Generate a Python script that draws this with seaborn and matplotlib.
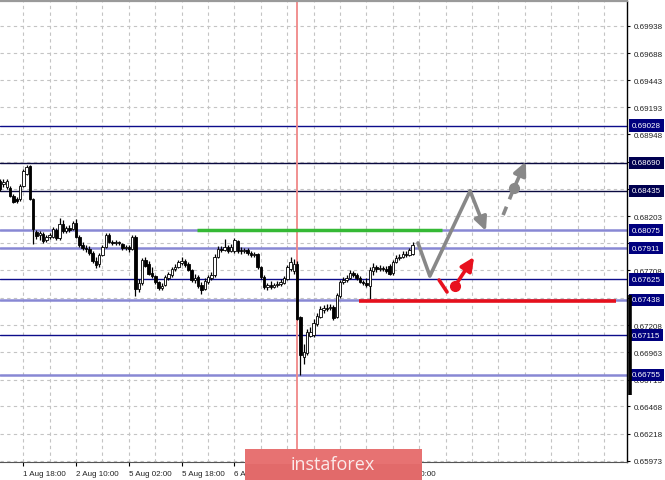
import matplotlib
matplotlib.use("Agg")
import matplotlib.pyplot as plt
import matplotlib.transforms as mtransforms
from matplotlib.patches import Rectangle
from matplotlib.ticker import MultipleLocator, FixedLocator, FixedFormatter
import numpy as np
import pandas as pd
import seaborn as sns

# ------------------------------------------------------------------
# data: hourly bars, hour 0 = 1 Aug 18:00 (trading hours only)
# ------------------------------------------------------------------
bar_hours = list(range(-7, 119))

opens = [0.68523, 0.68495, 0.68468, 0.68459, 0.68386, 0.68358, 0.68358, 0.68477, 0.68586, 0.68659,
         0.68358, 0.68058, 0.68030, 0.68039, 0.67985, 0.68012, 0.68012, 0.68076, 0.68003, 0.68130,
         0.68067, 0.68094, 0.68085, 0.68140, 0.68012, 0.67939, 0.67912, 0.67903, 0.67867, 0.67794,
         0.67766, 0.67848, 0.67921, 0.68030, 0.67967, 0.67958, 0.67967, 0.67948, 0.67912, 0.67921,
         0.67903, 0.68012, 0.67538, 0.67593, 0.67803, 0.67766, 0.67684, 0.67656, 0.67602, 0.67547,
         0.67574, 0.67638, 0.67665, 0.67720, 0.67739, 0.67776, 0.67794, 0.67766, 0.67711, 0.67620,
         0.67647, 0.67574, 0.67538, 0.67602, 0.67638, 0.67665, 0.67830, 0.67903, 0.67894, 0.67921,
         0.67885, 0.67885, 0.67976, 0.67894, 0.67885, 0.67894, 0.67867, 0.67848, 0.67857, 0.67739,
         0.67647, 0.67556, 0.67574, 0.67556, 0.67574, 0.67583, 0.67593, 0.67629, 0.67720, 0.67702,
         0.67766, 0.67283, 0.66918, 0.66955, 0.67110, 0.67119, 0.67219, 0.67283, 0.67347, 0.67365,
         0.67365, 0.67374, 0.67283, 0.67474, 0.67602, 0.67620, 0.67638, 0.67684, 0.67665, 0.67638,
         0.67602, 0.67593, 0.67565, 0.67702, 0.67739, 0.67720, 0.67730, 0.67720, 0.67748, 0.67684,
         0.67785, 0.67821, 0.67830, 0.67857, 0.67848, 0.67857]

highs = [0.68541, 0.68541, 0.68541, 0.68477, 0.68404, 0.68377, 0.68495, 0.68632, 0.68668, 0.68668,
         0.68368, 0.68076, 0.68067, 0.68058, 0.68030, 0.68049, 0.68103, 0.68094, 0.68185, 0.68167,
         0.68112, 0.68121, 0.68158, 0.68176, 0.68030, 0.67967, 0.67939, 0.67930, 0.67885, 0.67830,
         0.67867, 0.67939, 0.68049, 0.68049, 0.67985, 0.67985, 0.67976, 0.67958, 0.67939, 0.67939,
         0.68030, 0.68030, 0.67629, 0.67821, 0.67830, 0.67794, 0.67739, 0.67665, 0.67611, 0.67593,
         0.67665, 0.67693, 0.67739, 0.67766, 0.67803, 0.67830, 0.67812, 0.67785, 0.67720, 0.67675,
         0.67665, 0.67602, 0.67638, 0.67665, 0.67693, 0.67857, 0.67930, 0.67930, 0.67994, 0.67939,
         0.67948, 0.68003, 0.67985, 0.67921, 0.67912, 0.67912, 0.67885, 0.67876, 0.67867, 0.67748,
         0.67665, 0.67593, 0.67611, 0.67593, 0.67611, 0.67629, 0.67656, 0.67757, 0.67830, 0.67812,
         0.67794, 0.67292, 0.67037, 0.67173, 0.67191, 0.67265, 0.67320, 0.67383, 0.67392, 0.67401,
         0.67401, 0.67392, 0.67502, 0.67620, 0.67647, 0.67665, 0.67711, 0.67702, 0.67684, 0.67656,
         0.67620, 0.67638, 0.67739, 0.67776, 0.67757, 0.67757, 0.67748, 0.67748, 0.67766, 0.67803,
         0.67848, 0.67857, 0.67885, 0.67885, 0.67912, 0.67967]

lows = [0.68432, 0.68468, 0.68450, 0.68377, 0.68322, 0.68322, 0.68340, 0.68468, 0.68577, 0.68349,
        0.67948, 0.67994, 0.67985, 0.67958, 0.67967, 0.67994, 0.68003, 0.67985, 0.67985, 0.68049,
        0.68049, 0.68058, 0.68076, 0.68003, 0.67921, 0.67894, 0.67876, 0.67848, 0.67776, 0.67730,
        0.67739, 0.67839, 0.67912, 0.67958, 0.67939, 0.67939, 0.67939, 0.67894, 0.67894, 0.67876,
        0.67894, 0.67474, 0.67511, 0.67574, 0.67739, 0.67665, 0.67638, 0.67583, 0.67529, 0.67529,
        0.67565, 0.67620, 0.67647, 0.67702, 0.67730, 0.67757, 0.67739, 0.67702, 0.67602, 0.67593,
        0.67547, 0.67492, 0.67529, 0.67583, 0.67620, 0.67647, 0.67821, 0.67876, 0.67885, 0.67867,
        0.67876, 0.67867, 0.67867, 0.67857, 0.67867, 0.67848, 0.67830, 0.67830, 0.67720, 0.67629,
        0.67538, 0.67529, 0.67538, 0.67547, 0.67556, 0.67565, 0.67583, 0.67620, 0.67702, 0.67675,
        0.67256, 0.66754, 0.66854, 0.66936, 0.67100, 0.67100, 0.67201, 0.67274, 0.67320, 0.67338,
        0.67347, 0.67256, 0.67274, 0.67456, 0.67583, 0.67602, 0.67629, 0.67647, 0.67620, 0.67593,
        0.67574, 0.67556, 0.67447, 0.67665, 0.67693, 0.67702, 0.67702, 0.67684, 0.67665, 0.67665,
        0.67776, 0.67803, 0.67821, 0.67830, 0.67839, 0.67848]

closes = [0.68450, 0.68514, 0.68523, 0.68386, 0.68331, 0.68340, 0.68477, 0.68614, 0.68650, 0.68358,
          0.68085, 0.68021, 0.68049, 0.67976, 0.68012, 0.68030, 0.68085, 0.68003, 0.68130, 0.68067,
          0.68094, 0.68076, 0.68140, 0.68012, 0.67939, 0.67912, 0.67903, 0.67867, 0.67794, 0.67757,
          0.67848, 0.67921, 0.68030, 0.67967, 0.67958, 0.67967, 0.67958, 0.67912, 0.67921, 0.67903,
          0.68012, 0.67538, 0.67593, 0.67803, 0.67748, 0.67675, 0.67656, 0.67602, 0.67547, 0.67565,
          0.67647, 0.67675, 0.67720, 0.67739, 0.67785, 0.67794, 0.67757, 0.67711, 0.67620, 0.67638,
          0.67565, 0.67529, 0.67611, 0.67647, 0.67665, 0.67830, 0.67903, 0.67894, 0.67921, 0.67885,
          0.67921, 0.67985, 0.67885, 0.67885, 0.67894, 0.67867, 0.67848, 0.67857, 0.67739, 0.67647,
          0.67556, 0.67574, 0.67556, 0.67574, 0.67583, 0.67602, 0.67638, 0.67739, 0.67785, 0.67766,
          0.67265, 0.66936, 0.66964, 0.67146, 0.67146, 0.67228, 0.67292, 0.67356, 0.67365, 0.67360,
          0.67374, 0.67274, 0.67484, 0.67602, 0.67620, 0.67638, 0.67684, 0.67665, 0.67638, 0.67602,
          0.67593, 0.67574, 0.67711, 0.67739, 0.67720, 0.67730, 0.67720, 0.67702, 0.67675, 0.67785,
          0.67821, 0.67830, 0.67857, 0.67848, 0.67894, 0.67939]

# horizontal levels and their right-hand labels
level_prices = [0.69028, 0.68690, 0.68435, 0.68075, 0.67911, 0.67625, 0.67438, 0.67115, 0.66755]
level_styles = ["navy", "dark", "dark", "light", "light", "navy", "light", "navy", "light"]

# price scale
price_ticks = [0.69938, 0.69688, 0.69443, 0.69193, 0.68948, 0.68698, 0.68453, 0.68203, 0.67953,
               0.67708, 0.67458, 0.67208, 0.66963, 0.66713, 0.66468, 0.66218, 0.65973]

# time scale
time_tick_hours = [-16, 0, 16, 32, 48, 64, 80, 96, 112]
time_tick_labels = ["1 Aug 02:00", "1 Aug 18:00", "2 Aug 10:00", "5 Aug 02:00", "5 Aug 18:00",
                    "6 Aug 10:00", "7 Aug 02:00", "7 Aug 18:00", "8 Aug 10:00"]

# drawn analysis objects
marker_hour = 83
green_span = [52.6, 126.9]
green_price = 0.68075
red_span = [101.7, 179.6]
red_price = 0.67426

# grey forecast: zig-zag then dashed continuation
zig_hours = [119.6, 123.2, 135.4, 140.2]
zig_prices = [0.67958, 0.67656, 0.68432, 0.68067]
dash_hours = [145.4, 148.7, 152.3]
dash_prices = [0.68212, 0.68459, 0.68700]

# red alternative
alt_hours = [126.0, 128.4, 130.8, 136.6]
alt_prices = [0.67620, 0.67511, 0.67565, 0.67830]

# black range bar on the price scale
range_bar = [0.67483, 0.66572]

# ------------------------------------------------------------------
sns.set_style("white")
plt.rcParams['font.family'] = ['Liberation Sans', 'DejaVu Sans']

fig = plt.figure(figsize=(6.65, 4.81), dpi=100)
ax = fig.add_axes([0.0, 18 / 481, 627 / 665, 461 / 481])

ax.set_xlim(-7.06, 182.94)
ax.set_ylim(0.659612, 0.701632)

# grid
grid_kw = dict(color='#c4c4c4', linestyle=(0, (3, 3)), linewidth=0.8)
ax.xaxis.set_major_locator(FixedLocator(time_tick_hours))
ax.xaxis.set_major_formatter(FixedFormatter(time_tick_labels))
ax.xaxis.set_minor_locator(MultipleLocator(8))
ax.grid(True, which='both', axis='x', **grid_kw)
ax.yaxis.set_major_locator(FixedLocator(price_ticks))
ax.set_yticklabels([f"{p:.5f}" for p in price_ticks])
ax.grid(True, which='major', axis='y', **grid_kw)
ax.set_axisbelow(True)

# levels
level_colors = {"navy": ('#0c0c8a', 1.0), "dark": ('#0a0a40', 1.0), "light": ('#8888d4', 1.8)}
box_colors = {"navy": '#00007e', "dark": '#000050', "light": '#00007e'}
trans = mtransforms.blended_transform_factory(ax.transAxes, ax.transData)
for price, style in zip(level_prices, level_styles):
    col, lw = level_colors[style]
    ax.axhline(price, color=col, lw=lw, zorder=1.5)
    ax.text(1.0 + 5 / 627, price, f"{price:.5f}", transform=trans, ha='left', va='center',
            fontsize=5.8, color='white', clip_on=False, zorder=6,
            bbox=dict(boxstyle='square,pad=0.32', facecolor=box_colors[style], edgecolor='none'))

# candles
df = pd.DataFrame({"hour": bar_hours, "open": opens, "high": highs, "low": lows, "close": closes})
df["bottom"] = df[["open", "close"]].min(axis=1)
df["height"] = (df["close"] - df["open"]).abs().clip(lower=0.00002)
df["fill"] = np.where(df["close"] >= df["open"], "white", "black")
ax.vlines(df["hour"], df["low"], df["high"], color='black', lw=0.9, zorder=3)
ax.bar(df["hour"], df["height"], bottom=df["bottom"], width=0.75, color=df["fill"],
       edgecolor='black', linewidth=0.6, zorder=3.5)

# vertical marker
ax.axvline(marker_hour, color='#f08888', lw=1.3, zorder=2.5)

# support / resistance pieces
ax.hlines(green_price, green_span[0], green_span[1], color='#35b935', lw=2.5, zorder=4)
ax.hlines(red_price, red_span[0], red_span[1], color='#e5101c', lw=2.6, zorder=4)

# grey forecast path
grey = '#888888'
sns.lineplot(x=zig_hours[:3], y=zig_prices[:3], sort=False, estimator=None, color=grey,
             lw=2.6, ax=ax, zorder=5)
arrow_kw = dict(arrowstyle="-|>,head_length=0.8,head_width=0.38", lw=2.6, shrinkA=0, shrinkB=0)
ax.annotate("", xy=(zig_hours[3], zig_prices[3]), xytext=(zig_hours[2], zig_prices[2]),
            arrowprops=dict(color=grey, **arrow_kw), zorder=5)
ax.plot(dash_hours[:2], dash_prices[:2], color=grey, lw=2.6, ls=(0, (2.5, 2.2)), zorder=5)
ax.plot(dash_hours[1], dash_prices[1], 'o', color=grey, ms=7, zorder=5)
ax.annotate("", xy=(dash_hours[2], dash_prices[2]), xytext=(dash_hours[1], dash_prices[1]),
            arrowprops=dict(color=grey, **arrow_kw), zorder=5)

# red alternative path
red = '#e8101e'
ax.plot(alt_hours[:2], alt_prices[:2], color=red, lw=2.6, zorder=5)
ax.plot(alt_hours[2], alt_prices[2], 'o', color=red, ms=7, zorder=5)
ax.annotate("", xy=(alt_hours[3], alt_prices[3]), xytext=(alt_hours[2], alt_prices[2]),
            arrowprops=dict(color=red, **arrow_kw), zorder=5)

# range bar on the scale
ax.plot([1.0 + 3 / 627] * 2, range_bar, transform=trans, color='black', lw=2.6,
        clip_on=False, solid_capstyle='butt', zorder=7)

# axes styling
ax.yaxis.tick_right()
ax.tick_params(axis='y', which='major', right=True, left=False, length=2.5, width=0.8,
               pad=2, labelsize=5.8, labelcolor='#222222', color='black')
ax.tick_params(axis='x', which='major', bottom=True, length=3, width=0.8, pad=2.5,
               labelsize=5.8, labelcolor='#222222', color='black')
ax.tick_params(axis='x', which='minor', bottom=False, length=0)
for lbl in ax.get_xticklabels():
    lbl.set_horizontalalignment('left')
ax.spines['left'].set_visible(False)
ax.spines['top'].set_color('#9a9a9a')
ax.spines['top'].set_linewidth(1.6)
ax.spines['right'].set_color('black')
ax.spines['right'].set_linewidth(1.0)
ax.spines['bottom'].set_color('#555555')
ax.spines['bottom'].set_linewidth(0.8)

# instaforex banner
fig.patches.append(Rectangle((245 / 665, 0), 177 / 665, 31 / 481, transform=fig.transFigure,
                             facecolor='#e26a6a', edgecolor='none', zorder=10))
fig.patches.append(Rectangle((245 / 665, 16 / 481), 177 / 665, 15 / 481, transform=fig.transFigure,
                             facecolor='#e77272', edgecolor='none', zorder=10))
fig.text(333 / 665, 16 / 481, "instaforex", ha='center', va='center', fontsize=13,
         family=['Open Sans', 'DejaVu Sans'], color='#fbeaea', zorder=11)

fig.savefig("out.png", dpi=100)
